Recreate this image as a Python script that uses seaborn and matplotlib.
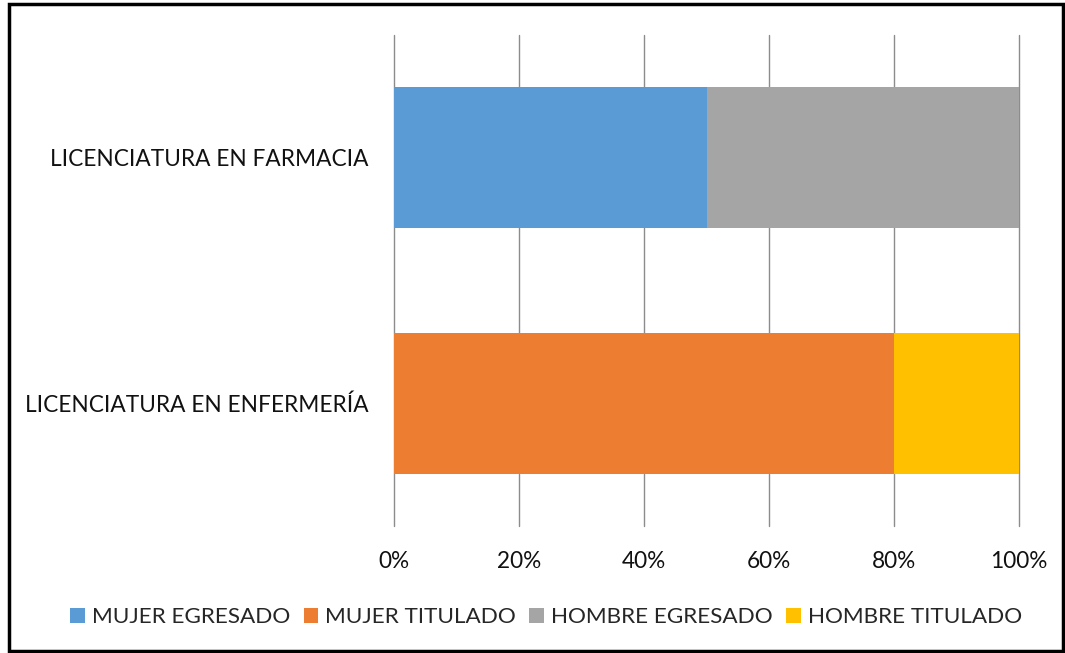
"""
Stacked 100% horizontal bars: egresados / titulados by licenciatura.
"""
import numpy as np
import pandas as pd
import matplotlib
matplotlib.use("Agg")
import matplotlib.pyplot as plt
from matplotlib.patches import Rectangle, Patch
from matplotlib.ticker import PercentFormatter
import seaborn as sns

# ─────────────────────────────────────────────
# Data
# ─────────────────────────────────────────────
categories = ["LICENCIATURA EN FARMACIA", "LICENCIATURA EN ENFERMERÍA"]
series_names = ["MUJER EGRESADO", "MUJER TITULADO", "HOMBRE EGRESADO", "HOMBRE TITULADO"]
mujer_egresado = [50, 0]
mujer_titulado = [0, 80]
hombre_egresado = [50, 0]
hombre_titulado = [0, 20]
colors = ["#5B9BD5", "#ED7D31", "#A5A5A5", "#FFC000"]
x_ticks = [0, 20, 40, 60, 80, 100]

sns.set_theme(style="white")
plt.rcParams["font.family"] = ["Lato", "DejaVu Sans"]
FS = 16.3

vals = np.array([mujer_egresado, mujer_titulado, hombre_egresado, hombre_titulado], dtype=float)
pct = vals / vals.sum(axis=0) * 100
cum = np.cumsum(pct, axis=0)

fig = plt.figure(figsize=(10.65, 6.53), dpi=100)
ax = fig.add_axes([394 / 1065, 1 - 526 / 653, (1019 - 394) / 1065, (526 - 35) / 653])

# draw cumulative totals from the largest down so each segment shows
for i in reversed(range(len(series_names))):
    df = pd.DataFrame({"cat": categories, "val": cum[i]})
    sns.barplot(data=df, x="val", y="cat", order=categories, color=colors[i],
                orient="h", width=0.575, saturation=1, linewidth=0,
                ax=ax, zorder=3)

ax.set_xlim(0, 100)
ax.set_ylim(1.5, -0.5)
ax.set_xticks(x_ticks)
ax.xaxis.set_major_formatter(PercentFormatter(decimals=0))
ax.grid(axis="x", color="#8c8c8c", linewidth=1.0, zorder=0)
ax.grid(axis="y", visible=False)
for line in ax.get_xgridlines():
    line.set_clip_on(False)
for s in ax.spines.values():
    s.set_visible(False)
ax.set_xlabel("")
ax.set_ylabel("")
ax.tick_params(axis="x", length=0, pad=18, labelsize=FS, labelcolor="#111111")
ax.tick_params(axis="y", length=0, pad=18, labelsize=FS, labelcolor="#111111")

handles = [Patch(facecolor=c, edgecolor="none") for c in colors]
fig.legend(handles, series_names, loc="center", ncol=4,
           bbox_to_anchor=(546 / 1065, 1 - 617 / 653), frameon=False,
           fontsize=16.2, handlelength=0.66, handleheight=0.66,
           handletextpad=0.3, columnspacing=0.6)

# outer border
fig.patches.append(Rectangle((9 / 1065, 2 / 653), 1054 / 1065, 647 / 653,
                             transform=fig.transFigure, fill=False,
                             edgecolor="black", linewidth=2.5))

fig.savefig("out.png", dpi=100)
